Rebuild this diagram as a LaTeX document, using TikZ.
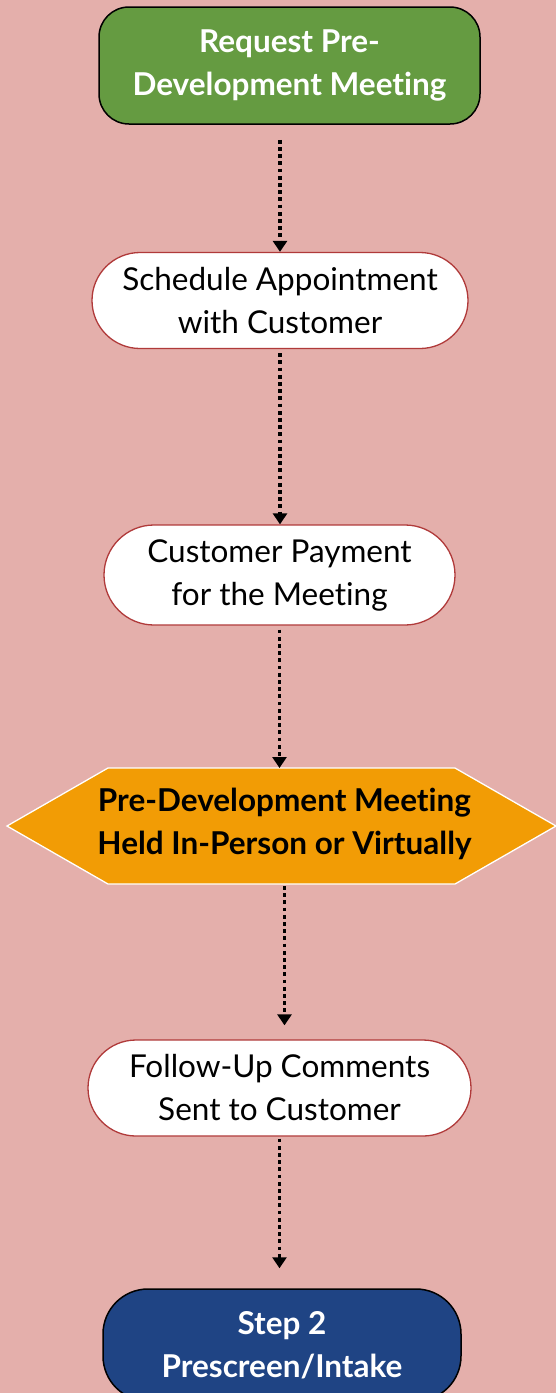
\documentclass[tikz,border=0pt]{standalone}
\usepackage{fontspec}
\setmainfont{Lato}[Ligatures=NoCommon]
\usetikzlibrary{arrows.meta,backgrounds}
\definecolor{bgpink}{HTML}{E4AFAB}
\definecolor{greenbox}{HTML}{659B41}
\definecolor{orangebox}{HTML}{F29C05}
\definecolor{bluebox}{HTML}{1F4484}
\definecolor{redline}{HTML}{B03A3A}
\begin{document}
\begin{tikzpicture}[x=1pt,y=-1pt,
  txt/.style={align=center, font=\fontsize{31.5}{43}\selectfont, inner sep=0pt},
  pill/.style={txt, draw=redline, line width=1.3pt, fill=white, text=black},
  flow/.style={line width=3.8pt, dash pattern=on 3.8pt off 3.4pt, -{Triangle[width=14pt,length=11pt]}}
]
\useasboundingbox (0,0) rectangle (556,1393);

\node[txt, draw=black, line width=1.5pt, fill=greenbox, text=white, font=\fontsize{31.5}{43}\selectfont\bfseries,
  minimum width=381pt, minimum height=117pt, rounded corners=30pt] (req) at (289.5,65.5)
  {Request Pre-\\Development Meeting};

\node[pill, minimum width=376pt, minimum height=96pt, rounded corners=48pt] (sched) at (280,300.5)
  {Schedule Appointment\\with Customer};

\node[pill, minimum width=351pt, minimum height=100pt, rounded corners=50pt] (pay) at (279.5,575)
  {Customer Payment\\for the Meeting};

\node[txt, text=black, font=\fontsize{31.5}{43}\selectfont\bfseries] (meet) at (284.5,824)
  {Pre-Development Meeting\\Held In-Person or Virtually};

\node[pill, minimum width=383pt, minimum height=96pt, rounded corners=48pt] (follow) at (279.5,1088)
  {Follow-Up Comments\\Sent to Customer};

\node[txt, draw=black, line width=1.5pt, fill=bluebox, text=white, font=\fontsize{31.5}{43}\selectfont\bfseries,
  minimum width=358pt, minimum height=112pt, rounded corners=45pt] (step) at (282,1345)
  {Step 2\\Prescreen/Intake};

\begin{scope}[on background layer]
  \fill[bgpink] (0,0) rectangle (556,1393);
  \draw[white, line width=1.3pt, fill=orangebox, shift={(meet.center)}, yshift=-2pt]
    (-176.5,-58) -- (170.5,-58) -- (271.5,0) -- (170.5,58) -- (-176.5,58) -- (-277.5,0) -- cycle;
  \coordinate (meetbot) at ([yshift=-60pt]meet.center);
  \coordinate (meettop) at ([yshift=56pt]meet.center);
\end{scope}

\draw[flow, shorten <=15pt] (req.south -| sched.north) -- (sched.north);
\draw[flow, shorten <=4pt] (sched.south) -- (sched.south |- pay.north);
\draw[flow, shorten <=4pt] (pay.south) -- (pay.south |- meettop);
\draw[flow, shorten <=2pt, shorten >=14pt] (meetbot) -- (meetbot |- follow.north);
\draw[flow, shorten <=2pt, shorten >=20pt] (follow.south) -- (follow.south |- step.north);
\end{tikzpicture}
\end{document}
